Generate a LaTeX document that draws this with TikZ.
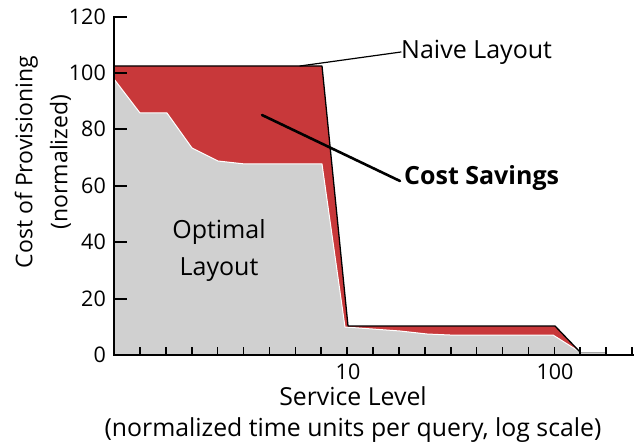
\documentclass[tikz,border=0pt]{standalone}
\usepackage{fontspec}
\setmainfont{Open Sans}
\definecolor{savred}{RGB}{200,56,58}
\definecolor{optgray}{RGB}{208,208,208}
\begin{document}
\begin{tikzpicture}[x=1pt,y=-1pt,
  axisline/.style={line width=2pt,line cap=rect},
  tickmark/.style={line width=1.6pt},
  ticklab/.style={font=\fontsize{21.5}{24}\selectfont,inner sep=0pt},
  axtitle/.style={font=\fontsize{24.8}{31}\selectfont,align=center,inner sep=0pt},
  ytitlestyle/.style={font=\fontsize{23}{35}\selectfont,align=center,inner sep=0pt},
  annot/.style={font=\fontsize{25}{37}\selectfont,align=center,inner sep=0pt},
  leader/.style={line cap=round}]
\useasboundingbox (0,0) rectangle (634,446);
% red (naive) area
\fill[savred] (114,355) -- (114,66) -- (322,66) -- (348,326) -- (555,326) -- (580,353) -- (580,355) -- cycle;
% gray (optimal) area
\fill[optgray] (114,355) -- (114,79) -- (140,113) -- (167,113) -- (192,148) -- (218,161) -- (245,164) -- (322,164) -- (345,327) -- (400,331) -- (427,334) -- (450,335) -- (553,335) -- (580,352) -- (606,352) -- (606,355) -- cycle;
\draw[white,line width=1pt,line join=round] (114,79) -- (140,113) -- (167,113) -- (192,148) -- (218,161) -- (245,164) -- (322,164) -- (345,327) -- (400,331) -- (427,334) -- (450,335) -- (553,335) -- (580,352);
\draw[gray!70,line width=1pt] (580,352) -- (606,352);
% naive outline
\draw[black,line width=1.3pt,line join=round] (114,66) -- (322,66) -- (348,326) -- (555,326) -- (580,352);
% axes
\draw[axisline] (114,17) -- (114,355) -- (634,355);
\foreach \yy/\lab in {17/120,73/100,129/80,186/60,242/40,299/20,355/0}{
  \draw[tickmark] (114,\yy) -- (127,\yy);
  \node[ticklab,anchor=east] (yl\lab) at (106,\yy) {\lab};
}
\foreach \k in {1,...,20}{
  \draw[tickmark] (114+25.9*\k,355) -- (114+25.9*\k,347);
}
\node[ticklab,anchor=north] (x10) at (348,364) {10};
\node[ticklab,anchor=north] (x100) at (555,364) {100};
% axis titles
\node[axtitle] (xtitle) at (353,415) {Service Level\\(normalized time units per query, log scale)};
\node[ytitlestyle,rotate=90] (ytitle) at (43,162) {Cost of Provisioning\\(normalized)};
% annotations
\node[annot] (opt) at (219,251) {Optimal\\Layout};
\node[annot,anchor=west] (naive) at (401,52) {Naive Layout};
\node[annot,anchor=west,font=\fontsize{25}{33}\selectfont\bfseries] (cs) at (404,178) {Cost Savings};
\coordinate (nvpt) at (300,66);
\coordinate (cspt) at (262,115);
\draw[leader,line width=1.2pt] (nvpt) -- (naive.west);
\draw[leader,line width=2.6pt] (cspt) -- ([xshift=-4pt,yshift=-3pt]cs.west);
\end{tikzpicture}
\end{document}
